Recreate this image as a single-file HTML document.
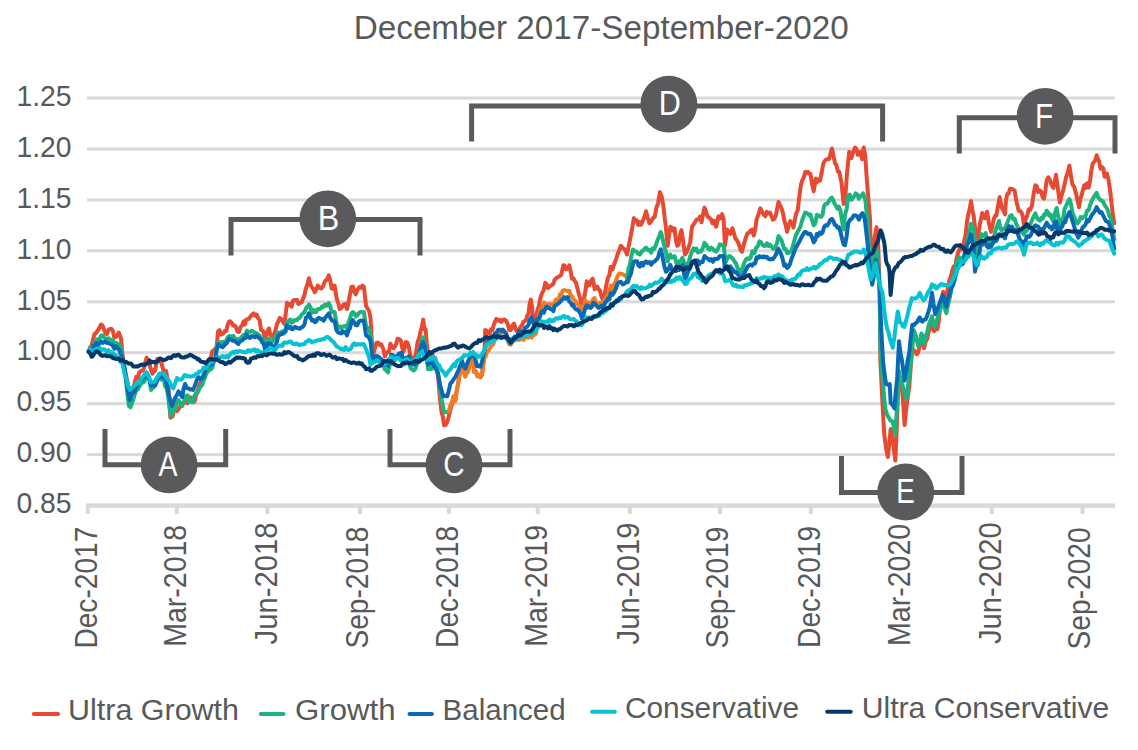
<!DOCTYPE html>
<html><head><meta charset="utf-8"><style>
html,body{margin:0;padding:0;background:#fff;width:1138px;height:750px;overflow:hidden}
svg{display:block}
text{font-family:"Liberation Sans",sans-serif;stroke-width:0.3px}
</style></head><body>
<svg width="1138" height="750" viewBox="0 0 1138 750">
<rect width="1138" height="750" fill="#fff"/>

<text x="353.8" y="38.7" font-size="33" fill="#58595b" textLength="495" lengthAdjust="spacingAndGlyphs">December 2017-September-2020</text>
<rect x="87" y="453.1" width="1028" height="3" fill="#d9d9d9"/>
<text x="71.5" y="462.3" font-size="30" fill="#58595b" text-anchor="end" textLength="55" lengthAdjust="spacingAndGlyphs">0.90</text>
<rect x="87" y="402.2" width="1028" height="3" fill="#d9d9d9"/>
<text x="71.5" y="411.4" font-size="30" fill="#58595b" text-anchor="end" textLength="55" lengthAdjust="spacingAndGlyphs">0.95</text>
<rect x="87" y="351.2" width="1028" height="3" fill="#d9d9d9"/>
<text x="71.5" y="360.4" font-size="30" fill="#58595b" text-anchor="end" textLength="55" lengthAdjust="spacingAndGlyphs">1.00</text>
<rect x="87" y="300.3" width="1028" height="3" fill="#d9d9d9"/>
<text x="71.5" y="309.5" font-size="30" fill="#58595b" text-anchor="end" textLength="55" lengthAdjust="spacingAndGlyphs">1.05</text>
<rect x="87" y="249.3" width="1028" height="3" fill="#d9d9d9"/>
<text x="71.5" y="258.5" font-size="30" fill="#58595b" text-anchor="end" textLength="55" lengthAdjust="spacingAndGlyphs">1.10</text>
<rect x="87" y="198.4" width="1028" height="3" fill="#d9d9d9"/>
<text x="71.5" y="207.6" font-size="30" fill="#58595b" text-anchor="end" textLength="55" lengthAdjust="spacingAndGlyphs">1.15</text>
<rect x="87" y="147.5" width="1028" height="3" fill="#d9d9d9"/>
<text x="71.5" y="156.7" font-size="30" fill="#58595b" text-anchor="end" textLength="55" lengthAdjust="spacingAndGlyphs">1.20</text>
<rect x="87" y="96.5" width="1028" height="3" fill="#d9d9d9"/>
<text x="71.5" y="105.7" font-size="30" fill="#58595b" text-anchor="end" textLength="55" lengthAdjust="spacingAndGlyphs">1.25</text>
<rect x="86" y="503.4" width="1029" height="4.4" fill="#d9d9d9"/>
<text x="71.5" y="512.6" font-size="30" fill="#58595b" text-anchor="end" textLength="55" lengthAdjust="spacingAndGlyphs">0.85</text>
<rect x="85.7" y="505.6" width="4" height="8.4" fill="#d9d9d9"/>
<text transform="translate(96.9,526.6) rotate(-90)" x="0" y="0" font-size="31" fill="#58595b" text-anchor="end" textLength="122" lengthAdjust="spacingAndGlyphs">Dec-2017</text>
<rect x="174.7" y="505.6" width="4" height="8.4" fill="#d9d9d9"/>
<text transform="translate(185.9,524.8) rotate(-90)" x="0" y="0" font-size="31" fill="#58595b" text-anchor="end" textLength="122" lengthAdjust="spacingAndGlyphs">Mar-2018</text>
<rect x="265.3" y="505.6" width="4" height="8.4" fill="#d9d9d9"/>
<text transform="translate(276.5,522.4) rotate(-90)" x="0" y="0" font-size="31" fill="#58595b" text-anchor="end" textLength="122" lengthAdjust="spacingAndGlyphs">Jun-2018</text>
<rect x="358.0" y="505.6" width="4" height="8.4" fill="#d9d9d9"/>
<text transform="translate(367.7,526.6) rotate(-90)" x="0" y="0" font-size="31" fill="#58595b" text-anchor="end" textLength="122" lengthAdjust="spacingAndGlyphs">Sep-2018</text>
<rect x="447.0" y="505.6" width="4" height="8.4" fill="#d9d9d9"/>
<text transform="translate(458.2,525.9) rotate(-90)" x="0" y="0" font-size="31" fill="#58595b" text-anchor="end" textLength="122" lengthAdjust="spacingAndGlyphs">Dec-2018</text>
<rect x="535.7" y="505.6" width="4" height="8.4" fill="#d9d9d9"/>
<text transform="translate(546.9,524.8) rotate(-90)" x="0" y="0" font-size="31" fill="#58595b" text-anchor="end" textLength="122" lengthAdjust="spacingAndGlyphs">Mar-2019</text>
<rect x="627.8" y="505.6" width="4" height="8.4" fill="#d9d9d9"/>
<text transform="translate(639.0,522.4) rotate(-90)" x="0" y="0" font-size="31" fill="#58595b" text-anchor="end" textLength="122" lengthAdjust="spacingAndGlyphs">Jun-2019</text>
<rect x="718.0" y="505.6" width="4" height="8.4" fill="#d9d9d9"/>
<text transform="translate(727.7,526.6) rotate(-90)" x="0" y="0" font-size="31" fill="#58595b" text-anchor="end" textLength="122" lengthAdjust="spacingAndGlyphs">Sep-2019</text>
<rect x="808.8" y="505.6" width="4" height="8.4" fill="#d9d9d9"/>
<text transform="translate(820.0,525.9) rotate(-90)" x="0" y="0" font-size="31" fill="#58595b" text-anchor="end" textLength="122" lengthAdjust="spacingAndGlyphs">Dec-2019</text>
<rect x="899.0" y="505.6" width="4" height="8.4" fill="#d9d9d9"/>
<text transform="translate(910.2,523.9) rotate(-90)" x="0" y="0" font-size="31" fill="#58595b" text-anchor="end" textLength="122" lengthAdjust="spacingAndGlyphs">Mar-2020</text>
<rect x="989.8" y="505.6" width="4" height="8.4" fill="#d9d9d9"/>
<text transform="translate(1001.0,522.1) rotate(-90)" x="0" y="0" font-size="31" fill="#58595b" text-anchor="end" textLength="122" lengthAdjust="spacingAndGlyphs">Jun-2020</text>
<rect x="1080.5" y="505.6" width="4" height="8.4" fill="#d9d9d9"/>
<text transform="translate(1090.2,527.4) rotate(-90)" x="0" y="0" font-size="31" fill="#58595b" text-anchor="end" textLength="122" lengthAdjust="spacingAndGlyphs">Sep-2020</text>
<path d="M88.7,351.7 L90.2,347.1 L91.6,345.8 L93.0,339.8 L94.5,334.1 L96.0,332.9 L97.5,331.1 L99.3,328.0 L101.1,324.5 L102.6,325.8 L104.1,329.7 L105.5,333.5 L107.0,334.1 L108.5,329.9 L110.0,328.9 L111.5,328.9 L112.9,331.1 L114.3,337.3 L115.8,337.0 L117.3,335.2 L118.8,332.6 L121.0,338.5 L122.4,353.2 L124.6,369.3 L126.1,375.9 L127.6,382.5 L129.8,394.3 L132.0,391.3 L133.5,387.9 L134.9,381.9 L136.4,376.6 L137.9,377.8 L139.3,372.2 L141.2,370.7 L143.0,370.8 L144.8,364.6 L146.6,357.6 L148.1,361.1 L149.6,364.9 L151.1,370.1 L152.5,373.7 L153.8,370.0 L155.0,370.8 L157.2,359.0 L158.6,359.4 L160.1,358.3 L162.3,366.4 L164.2,373.1 L166.0,370.8 L168.2,382.5 L170.4,417.7 L172.6,416.3 L174.1,409.2 L175.5,408.9 L177.0,411.0 L178.5,408.9 L179.9,407.3 L181.4,403.1 L182.9,403.6 L184.4,401.6 L185.9,402.0 L187.3,403.1 L188.8,401.9 L190.2,397.2 L191.7,398.1 L193.1,398.4 L194.6,401.6 L196.1,395.0 L197.6,391.3 L199.1,385.6 L200.5,382.5 L202.0,379.7 L203.4,375.1 L204.9,373.7 L206.4,368.0 L207.8,365.3 L209.3,362.0 L210.8,358.4 L212.2,351.3 L213.7,350.2 L215.1,349.1 L216.6,347.3 L218.1,331.1 L219.6,330.2 L221.0,334.6 L222.5,334.1 L223.8,332.9 L225.0,330.7 L226.3,330.9 L227.7,324.7 L229.0,321.6 L230.3,321.3 L231.6,322.6 L233.0,325.6 L234.3,325.3 L235.9,326.9 L237.4,331.6 L239.0,332.0 L240.6,326.9 L242.1,325.5 L243.7,321.3 L245.0,324.4 L246.3,319.4 L247.7,319.2 L249.0,318.7 L250.6,316.5 L252.1,314.5 L253.7,313.3 L255.2,315.8 L256.7,314.6 L258.2,318.4 L259.7,320.0 L261.0,329.8 L262.3,330.7 L263.6,331.8 L265.0,338.7 L266.4,334.3 L267.7,330.7 L269.0,328.4 L270.4,335.2 L271.7,335.4 L273.0,337.3 L274.3,333.6 L275.7,329.4 L277.0,324.0 L278.3,321.5 L279.7,317.9 L281.0,318.7 L282.6,321.0 L284.3,324.0 L285.6,314.9 L287.0,302.7 L288.6,305.1 L290.1,303.8 L291.7,306.7 L293.0,300.7 L294.3,300.0 L295.6,300.4 L297.0,299.9 L298.3,304.0 L299.9,302.9 L301.4,302.6 L303.0,298.8 L304.4,295.2 L305.9,288.5 L307.4,284.5 L308.9,278.2 L310.4,284.5 L311.8,287.0 L313.2,288.7 L314.7,292.2 L316.2,289.9 L317.7,285.6 L319.5,287.6 L321.3,288.5 L323.1,286.3 L325.0,281.1 L326.9,279.6 L328.7,275.3 L330.1,279.5 L331.6,288.5 L333.1,288.8 L334.6,285.6 L336.8,298.8 L338.2,303.0 L339.7,309.0 L341.5,307.9 L343.4,304.6 L345.2,304.0 L347.0,309.0 L348.5,302.9 L349.9,294.6 L351.4,287.0 L352.9,286.6 L354.3,291.8 L355.8,294.4 L357.6,289.5 L359.5,287.0 L361.0,287.8 L362.4,285.5 L363.9,287.0 L366.1,306.1 L367.6,308.7 L369.0,310.8 L370.5,317.8 L372.7,356.0 L374.5,349.7 L376.4,342.8 L378.2,342.7 L380.0,345.2 L381.2,344.3 L382.4,346.8 L383.6,350.2 L384.8,356.4 L386.1,353.7 L387.5,352.0 L388.9,352.1 L390.4,343.6 L392.0,347.3 L393.6,348.4 L394.9,346.6 L396.3,343.6 L397.6,338.8 L399.2,339.0 L400.8,340.4 L402.0,346.7 L403.2,351.6 L404.4,348.9 L405.6,342.0 L407.2,342.2 L408.8,346.8 L410.4,355.7 L412.0,358.0 L413.2,360.2 L414.4,359.6 L416.0,352.7 L417.6,342.0 L419.2,337.9 L420.8,330.8 L422.0,326.1 L423.2,319.6 L424.4,329.3 L425.6,329.2 L426.8,343.2 L428.0,353.2 L429.6,353.4 L431.2,356.4 L432.5,354.7 L433.9,358.5 L435.2,358.0 L436.5,367.4 L437.9,375.1 L439.2,390.0 L440.4,402.3 L441.6,412.4 L442.8,416.5 L444.0,425.2 L445.6,425.0 L447.2,422.0 L448.7,416.9 L450.3,409.9 L452.0,404.2 L453.6,396.4 L455.2,401.2 L456.6,391.6 L458.0,384.4 L459.6,373.9 L461.2,366.8 L462.5,368.1 L463.9,370.4 L465.2,376.4 L466.5,372.3 L467.9,369.9 L469.2,366.8 L470.5,362.2 L471.9,357.4 L473.2,354.0 L474.0,371.6 L475.6,371.2 L477.2,374.7 L478.8,374.8 L480.4,377.4 L482.0,374.8 L483.2,364.5 L484.4,357.2 L485.2,330.0 L486.8,330.8 L488.4,333.2 L489.7,333.8 L491.1,329.2 L492.4,330.0 L493.7,325.1 L495.1,321.3 L496.4,318.8 L498.0,320.6 L499.6,319.8 L501.2,322.0 L502.8,319.7 L504.4,319.5 L506.0,320.4 L507.6,323.8 L509.2,330.0 L510.8,330.0 L512.4,325.4 L514.0,323.6 L515.6,329.1 L517.2,331.6 L518.8,330.4 L520.4,327.0 L522.0,325.2 L523.3,321.9 L524.7,321.0 L526.0,320.4 L527.2,315.7 L528.4,314.0 L529.6,304.3 L530.8,299.6 L532.0,307.9 L533.2,318.8 L534.6,319.9 L536.0,318.7 L537.4,310.4 L538.7,306.7 L540.4,298.1 L542.0,293.3 L543.6,290.6 L545.3,282.7 L546.6,284.2 L548.0,288.2 L549.3,286.7 L550.6,285.8 L552.0,284.8 L553.3,284.0 L554.6,279.9 L556.0,278.5 L557.3,277.3 L558.6,276.7 L560.0,275.9 L561.3,274.7 L563.3,265.3 L564.6,265.5 L566.0,269.3 L567.6,268.7 L569.3,265.3 L570.6,271.2 L572.0,278.7 L573.3,278.3 L574.7,280.8 L576.0,282.7 L577.4,288.3 L578.7,293.3 L580.4,299.4 L582.0,310.7 L584.0,298.7 L585.4,290.9 L586.7,281.3 L588.0,285.4 L589.3,285.3 L591.0,280.8 L592.7,278.7 L594.7,289.3 L596.0,287.6 L597.3,286.7 L598.6,289.5 L600.0,290.5 L601.3,296.0 L602.6,299.2 L604.0,300.0 L605.3,290.6 L606.7,283.3 L608.0,277.3 L609.4,275.2 L610.7,266.7 L612.4,269.6 L614.0,264.8 L615.8,260.0 L617.5,254.5 L619.2,250.2 L620.9,245.8 L622.6,247.8 L624.4,249.3 L625.7,251.1 L627.0,254.5 L628.8,245.7 L630.5,237.1 L632.2,228.1 L633.9,218.1 L635.3,221.1 L636.8,220.4 L638.2,225.0 L639.7,222.1 L641.1,224.7 L642.6,221.6 L644.3,217.3 L646.0,211.2 L647.8,218.1 L649.5,223.3 L651.2,221.2 L653.0,218.1 L654.7,216.8 L656.4,207.7 L658.1,203.1 L659.9,192.1 L661.6,196.2 L663.4,206.0 L664.7,218.4 L666.0,228.5 L667.7,245.8 L669.0,236.1 L670.3,226.8 L671.7,227.6 L673.2,230.6 L674.6,228.5 L675.9,240.2 L677.2,245.8 L678.6,244.5 L680.1,234.7 L681.5,230.2 L683.2,241.8 L685.0,254.5 L686.7,252.3 L688.5,247.4 L690.2,242.3 L692.0,226.7 L693.5,224.6 L694.9,222.3 L696.8,219.4 L698.6,219.4 L700.0,216.5 L701.5,222.3 L703.0,214.3 L704.5,207.6 L706.0,211.2 L707.4,216.4 L709.2,217.7 L711.1,219.4 L712.5,223.4 L714.0,220.8 L716.2,226.7 L718.4,216.4 L720.2,218.5 L722.1,214.2 L723.6,219.4 L725.0,245.8 L727.2,229.6 L728.7,232.4 L730.2,234.0 L732.4,228.2 L733.8,232.6 L735.3,238.4 L737.1,240.5 L739.0,244.3 L740.5,249.5 L741.9,251.7 L743.8,244.4 L745.6,238.4 L747.4,233.4 L749.2,232.6 L750.7,230.5 L752.2,229.6 L753.7,235.5 L755.2,229.5 L756.6,219.4 L758.5,214.4 L760.3,208.3 L762.1,211.7 L763.9,215.0 L765.4,216.2 L766.8,211.8 L768.3,213.5 L770.0,212.5 L771.4,216.1 L772.9,219.7 L774.3,218.9 L775.7,216.2 L777.1,208.8 L778.5,201.9 L779.9,205.1 L781.4,207.9 L782.8,212.5 L784.2,220.1 L785.7,225.4 L787.1,231.7 L788.7,225.5 L790.3,221.1 L791.9,222.8 L793.5,227.5 L794.9,219.3 L796.3,213.1 L797.7,210.4 L799.3,196.5 L800.9,184.8 L802.3,180.2 L803.8,177.6 L805.2,172.0 L806.5,172.7 L807.9,171.8 L809.2,173.6 L810.5,174.1 L812.1,183.9 L813.7,191.2 L815.9,178.4 L817.3,182.0 L818.7,179.5 L820.1,180.5 L821.7,172.3 L823.3,163.5 L824.7,161.0 L826.2,159.4 L827.6,159.2 L829.0,159.2 L830.5,153.5 L831.9,148.5 L833.5,155.9 L835.1,163.5 L836.5,165.1 L837.9,171.6 L839.3,172.0 L841.5,182.7 L843.6,204.0 L845.0,201.9 L847.1,172.0 L849.3,151.7 L851.4,158.1 L853.2,152.0 L855.1,147.5 L856.5,148.9 L857.8,154.9 L859.1,154.0 L860.5,151.7 L862.1,159.2 L863.7,147.5 L865.3,156.0 L866.3,172.0 L867.9,193.3 L870.1,220.0 L870.6,242.0 L872.2,265.5 L874.3,239.9 L876.5,227.1 L878.1,244.1 L879.7,290.0 L880.4,361.7 L882.2,397.5 L884.1,432.6 L885.4,443.5 L886.6,451.6 L887.9,456.9 L889.3,443.4 L890.7,428.9 L892.2,438.1 L893.8,448.5 L895.3,460.6 L896.7,429.9 L898.1,389.7 L900.0,387.2 L901.8,385.2 L903.2,403.8 L904.6,425.1 L906.2,408.8 L907.7,397.4 L909.3,386.0 L910.7,367.4 L912.1,348.7 L913.7,350.1 L915.2,351.9 L916.8,354.3 L918.1,352.6 L919.8,345.7 L921.4,339.8 L922.7,339.6 L924.0,348.3 L925.6,341.8 L927.2,338.9 L928.8,331.2 L930.4,328.4 L932.0,322.7 L934.2,331.2 L935.8,328.0 L937.4,329.1 L938.7,321.4 L940.0,307.8 L941.6,299.5 L943.2,291.7 L944.5,298.6 L945.9,298.1 L947.5,290.2 L949.1,281.5 L950.8,276.5 L952.4,269.9 L953.7,266.6 L955.0,267.7 L956.3,259.6 L957.7,254.0 L959.0,250.3 L960.3,247.5 L961.7,249.5 L963.0,249.0 L964.4,239.9 L965.7,234.3 L967.0,221.6 L968.3,214.3 L969.6,209.6 L971.0,201.0 L972.4,210.5 L973.7,215.7 L975.7,234.3 L977.7,241.0 L979.7,225.0 L981.0,218.9 L982.3,213.0 L983.6,217.5 L985.0,218.3 L987.0,211.7 L989.0,223.7 L991.0,231.7 L992.4,225.8 L993.7,219.7 L995.0,215.8 L996.3,215.7 L998.0,206.2 L999.7,197.0 L1001.7,207.7 L1003.4,210.6 L1005.0,214.3 L1006.0,200.0 L1007.3,193.9 L1008.7,193.4 L1010.0,188.7 L1011.6,188.9 L1013.1,189.5 L1014.7,190.7 L1016.0,199.5 L1017.4,205.5 L1018.7,210.7 L1020.0,210.9 L1021.3,212.0 L1022.6,215.6 L1024.0,225.3 L1025.6,219.6 L1027.1,216.1 L1028.7,209.3 L1030.3,209.9 L1032.0,205.3 L1033.7,193.3 L1035.3,185.3 L1036.7,186.0 L1038.0,192.0 L1039.7,190.4 L1041.3,192.0 L1042.7,197.4 L1044.0,198.7 L1045.3,190.7 L1046.7,180.0 L1048.3,177.3 L1050.0,180.0 L1051.7,185.3 L1053.3,188.0 L1054.7,182.3 L1056.0,174.7 L1057.3,184.6 L1058.5,193.3 L1059.8,202.4 L1061.4,196.2 L1063.0,191.2 L1064.6,184.1 L1066.2,176.8 L1067.8,172.3 L1069.4,165.6 L1071.0,176.5 L1072.6,184.8 L1074.2,186.7 L1075.8,192.8 L1077.4,199.7 L1079.0,207.2 L1080.3,198.8 L1081.7,194.9 L1083.0,189.6 L1084.3,185.2 L1085.7,188.0 L1087.0,183.2 L1088.6,187.5 L1090.2,180.0 L1091.4,170.1 L1092.6,164.0 L1093.9,162.1 L1095.3,160.2 L1096.6,155.2 L1097.8,158.8 L1099.0,160.8 L1100.6,168.7 L1102.2,167.2 L1103.4,168.6 L1104.6,176.8 L1105.8,176.0 L1107.0,173.6 L1108.6,180.2 L1110.2,191.2 L1111.5,203.4 L1112.9,214.5 L1114.2,223.3" fill="none" stroke="#e64a33" stroke-width="4.0" stroke-linejoin="round" stroke-linecap="round"/>
<path d="M88.7,351.7 L90.5,349.0 L92.3,347.3 L93.8,346.0 L95.3,341.4 L96.8,339.8 L98.2,339.1 L99.6,338.6 L101.1,335.5 L102.6,335.6 L104.0,337.3 L105.5,338.8 L107.0,339.2 L108.5,338.3 L109.9,339.2 L111.4,340.0 L112.9,340.2 L114.3,345.0 L115.8,342.9 L117.7,343.8 L119.5,344.4 L121.3,351.1 L123.2,362.0 L124.7,371.1 L126.1,382.5 L127.5,394.9 L129.0,406.0 L130.5,407.3 L132.0,403.1 L133.5,398.9 L134.9,393.9 L136.4,389.9 L137.9,389.3 L139.3,386.8 L140.8,384.0 L142.3,382.6 L143.7,382.1 L145.2,379.6 L146.6,374.8 L148.1,375.2 L149.6,379.9 L151.0,389.9 L152.5,388.2 L154.0,386.9 L155.3,385.1 L156.6,379.6 L157.9,376.6 L159.4,374.5 L160.9,379.6 L162.4,378.5 L163.8,379.6 L165.2,386.5 L166.7,388.4 L168.2,396.8 L169.7,408.9 L171.1,416.3 L172.9,409.6 L174.8,410.4 L176.7,403.1 L178.5,400.1 L180.3,403.0 L182.2,406.0 L184.0,401.9 L185.8,395.7 L187.7,395.4 L189.5,401.6 L191.0,400.2 L192.4,402.4 L193.9,397.2 L195.8,393.2 L197.6,392.8 L199.1,389.4 L200.5,386.7 L202.0,385.5 L203.5,380.7 L204.9,377.9 L206.4,373.7 L207.9,371.3 L209.3,370.2 L210.8,369.3 L212.3,367.7 L213.7,361.7 L215.2,359.0 L216.6,346.4 L218.1,342.9 L219.6,342.4 L221.1,342.0 L222.5,343.3 L224.0,341.4 L225.0,341.3 L226.3,340.7 L227.7,337.3 L229.0,336.1 L230.3,336.0 L231.9,336.9 L233.5,335.8 L235.1,339.9 L236.7,338.8 L238.3,340.0 L239.7,338.8 L241.0,337.6 L242.3,336.4 L243.7,334.7 L245.3,335.2 L246.9,330.6 L248.5,332.1 L250.1,332.0 L251.7,330.7 L253.0,331.5 L254.3,332.2 L255.7,334.7 L257.0,333.3 L258.3,335.2 L259.6,335.5 L261.0,337.4 L262.3,340.0 L263.6,339.0 L265.0,342.9 L266.3,342.7 L267.6,342.0 L269.0,338.5 L270.4,342.4 L271.7,342.7 L273.0,339.9 L274.4,339.5 L275.7,336.0 L277.0,336.1 L278.4,332.7 L279.7,333.1 L281.0,332.0 L282.6,331.5 L284.1,332.1 L285.7,332.0 L287.0,321.3 L288.6,321.8 L290.1,319.5 L291.7,322.7 L293.0,322.1 L294.4,320.1 L295.7,320.2 L297.0,320.0 L298.5,318.2 L300.0,317.6 L301.5,314.7 L303.0,313.4 L304.5,312.2 L305.9,308.4 L307.4,306.7 L308.9,304.6 L310.3,307.0 L311.8,312.8 L313.2,309.9 L314.7,312.0 L316.2,312.0 L317.6,309.2 L319.1,309.0 L320.6,308.8 L322.1,306.4 L323.5,307.0 L325.0,304.6 L326.9,305.7 L328.7,303.2 L330.1,305.9 L331.6,312.0 L333.1,312.0 L334.6,312.0 L336.4,322.8 L338.2,328.1 L339.7,326.5 L341.1,327.8 L342.6,326.6 L344.1,326.4 L345.5,325.7 L347.0,328.1 L348.5,322.3 L349.9,319.0 L351.4,313.4 L352.9,312.1 L354.3,313.3 L355.8,316.4 L357.3,315.4 L358.7,313.1 L360.2,312.0 L362.0,312.2 L363.9,312.0 L366.1,326.6 L367.6,327.8 L369.0,329.3 L370.5,334.0 L372.7,360.4 L374.5,361.6 L376.4,356.0 L378.2,360.1 L380.0,361.2 L381.6,362.9 L383.2,365.3 L384.8,369.2 L386.4,370.6 L388.0,372.4 L389.6,365.5 L391.2,358.0 L392.8,358.8 L394.4,360.8 L396.0,356.4 L397.3,357.2 L398.7,354.7 L400.0,354.8 L401.3,356.5 L402.7,360.5 L404.0,364.4 L405.3,363.1 L406.7,358.3 L408.0,358.0 L409.3,363.0 L410.7,368.4 L412.0,369.2 L413.6,370.6 L415.2,369.2 L416.8,364.3 L418.4,358.0 L420.0,350.1 L421.6,341.5 L423.2,337.2 L424.8,343.9 L426.4,351.6 L428.0,369.2 L429.6,367.0 L431.2,369.2 L432.5,363.2 L433.9,368.2 L435.2,364.4 L436.5,369.9 L437.9,374.0 L439.2,380.4 L440.4,390.4 L441.6,399.6 L442.8,405.4 L444.0,412.4 L445.6,412.0 L447.2,412.4 L448.7,411.3" fill="none" stroke="#1db37e" stroke-width="4.0" stroke-linejoin="round" stroke-linecap="round"/>
<path d="M448.7,411.3 L450.3,405.8 L452.0,402.0 L453.6,396.4 L455.2,401.2 L456.6,391.2 L458.0,384.4 L459.6,374.7 L461.2,366.8 L462.5,367.3 L463.9,372.5 L465.2,376.4 L466.5,372.6 L467.9,372.3 L469.2,366.8 L470.5,363.4 L471.9,358.3 L473.2,354.0 L474.0,371.6 L475.6,371.1 L477.2,376.5 L478.8,374.8 L480.4,376.6 L482.0,374.8 L483.2,365.1 L484.4,357.2 L485.7,356.6 L487.1,351.0 L488.4,350.8 L490.0,348.1 L491.6,345.3 L493.2,344.4 L494.8,339.7 L496.4,336.7 L498.0,333.2 L499.6,332.1 L501.2,332.9 L502.8,332.8 L504.4,331.6 L506.0,334.6 L507.6,340.0 L509.2,344.4 L510.8,344.7 L512.4,339.8 L514.0,339.6 L515.6,339.9 L517.2,339.2 L518.8,339.9 L520.4,339.6 L522.0,337.4 L523.6,339.8 L525.2,337.4 L526.8,336.4 L528.4,337.6 L530.0,334.6 L531.6,337.4 L533.2,334.8 L534.6,334.8 L536.0,333.3 L537.3,325.2 L538.7,319.2 L540.0,310.7 L541.3,307.0 L542.7,305.7 L544.0,302.7 L545.3,303.8 L546.6,305.6 L548.0,304.4 L549.3,304.0 L550.6,304.4 L552.0,304.2 L553.4,305.5 L554.7,302.7 L556.0,299.6 L557.4,300.7 L558.7,298.7 L560.0,294.3 L561.4,294.4 L562.7,290.7 L564.4,290.1 L566.0,290.6 L567.6,291.1 L569.3,290.7 L570.6,295.3 L572.0,296.2 L573.3,298.7 L574.6,300.2 L576.0,301.6 L577.3,304.0 L578.9,305.5 L580.4,306.2 L582.0,313.3 L583.6,307.3 L585.3,300.0 L586.6,303.2 L588.0,303.6 L589.3,302.7 L590.6,302.3 L592.0,302.3 L593.3,298.7 L594.6,298.1 L596.0,303.0 L597.3,304.0 L598.6,305.7 L600.0,302.8 L601.3,306.7 L602.6,302.6 L604.0,301.7 L605.3,298.7 L606.6,296.0 L608.0,294.5 L609.3,290.7 L610.9,285.6 L612.4,290.1 L614.0,283.9 L615.7,281.6 L617.5,276.1 L619.2,273.5 L620.9,273.8 L622.7,274.3 L624.4,275.2 L625.7,275.5 L627.0,278.7" fill="none" stroke="#f37a22" stroke-width="4.0" stroke-linejoin="round" stroke-linecap="round"/>
<path d="M627.0,278.7 L628.4,269.0 L629.9,264.6 L631.3,256.2 L633.0,249.5 L634.8,251.0 L636.5,251.8 L638.3,253.9 L640.0,254.5 L641.5,251.6 L643.0,250.6 L644.5,248.9 L646.0,247.5 L647.7,249.9 L649.5,249.7 L651.2,252.7 L652.7,248.2 L654.1,248.9 L655.6,245.8 L657.3,240.8 L659.1,236.5 L660.8,232.0 L662.5,238.3 L664.2,245.8 L666.0,252.4 L667.7,261.4 L669.0,255.8 L670.3,254.5 L671.7,257.6 L673.2,257.0 L674.6,256.2 L676.4,262.6 L678.1,264.8 L679.5,261.2 L681.0,260.7 L682.4,257.9 L684.1,262.6 L685.9,270.0 L687.3,263.6 L688.8,262.2 L690.2,256.2 L692.0,251.7 L693.5,248.3 L694.9,250.2 L696.4,248.7 L697.9,252.5 L699.3,251.8 L700.8,251.7 L702.6,248.6 L704.5,242.8 L706.3,244.8 L708.1,248.7 L709.6,249.7 L711.1,247.5 L712.6,248.7 L714.4,250.5 L716.2,251.7 L718.0,248.7 L719.9,244.3 L721.8,245.2 L723.6,245.8 L725.8,261.9 L727.6,257.7 L729.4,256.0 L731.2,257.2 L733.1,259.0 L734.5,261.6 L736.0,263.4 L737.5,267.8 L738.9,270.2 L740.4,272.2 L742.6,267.8 L744.5,262.3 L746.3,259.0 L747.8,258.3 L749.2,259.0 L750.7,257.5 L752.5,251.3 L754.4,253.1 L756.1,247.8 L757.8,246.2 L759.5,241.4 L761.0,242.2 L762.5,244.9 L763.9,246.0 L765.4,245.8 L766.9,243.3 L768.5,246.0 L770.0,244.5 L771.4,246.2 L772.9,248.3 L774.3,248.8 L775.7,246.4 L777.1,242.8 L778.5,236.0 L779.9,237.9 L781.4,240.0 L782.8,244.5 L784.2,249.0 L785.7,248.9 L787.1,253.1 L788.5,253.1 L789.9,251.6 L791.3,250.9 L792.9,246.2 L794.5,240.1 L796.1,234.7 L797.7,231.7 L799.2,229.1 L800.7,225.8 L802.2,220.0 L803.7,216.3 L805.2,212.5 L806.5,213.0 L807.9,213.6 L809.2,215.4 L810.5,214.7 L812.1,220.5 L813.7,225.3 L815.3,223.2 L816.9,214.7 L818.3,216.2 L819.8,215.8 L821.2,216.8 L822.6,214.7 L824.1,205.7 L825.5,204.0 L827.1,203.8 L828.7,201.4 L830.3,199.0 L831.9,197.6 L833.3,200.4 L834.7,204.0 L836.1,206.1 L837.5,208.7 L839.0,206.7 L840.4,210.4 L842.0,221.2 L843.6,229.6 L845.0,214.7 L846.6,209.3 L848.2,196.5 L849.8,194.6 L851.4,199.7 L852.8,197.9 L854.3,196.2 L855.7,193.3 L857.3,194.5 L858.9,198.7 L860.3,196.0 L861.7,195.9 L863.1,193.3 L865.3,199.7 L867.4,220.0 L869.5,252.7 L870.9,259.4 L872.2,269.7 L873.8,259.7 L875.4,252.7 L877.0,250.5 L878.4,268.6 L879.7,290.0 L880.4,348.7 L881.8,365.7 L883.2,386.0 L885.1,408.4 L887.0,414.5 L888.8,417.7 L890.6,420.6 L892.5,421.4 L893.9,426.8 L895.3,434.5 L897.1,405.1 L899.0,371.0 L900.3,379.3 L901.5,381.6 L902.8,386.0 L904.6,394.0 L906.5,399.0 L908.2,384.6 L910.0,369.2 L911.7,354.7 L913.9,330.2 L915.3,334.4 L916.7,339.4 L918.1,346.2 L919.8,341.8 L921.4,333.4 L922.7,336.7 L924.0,344.1 L925.6,336.9 L927.2,331.8 L928.8,324.8 L930.4,320.8 L932.0,316.3 L933.6,324.0 L935.2,327.0 L936.6,321.6 L938.1,316.2 L939.5,312.0 L941.1,305.2 L942.7,297.1 L944.5,308.0 L946.4,313.1 L947.7,305.3 L948.9,301.4 L950.2,296.0 L951.8,286.0 L953.4,279.8 L955.0,270.3 L956.3,263.6 L957.7,260.1 L959.0,257.0 L960.3,257.7 L961.7,259.0 L963.0,259.7 L964.3,254.1 L965.7,250.5 L967.0,245.0 L968.3,237.3 L969.7,230.5 L971.0,223.7 L972.4,226.4 L973.7,229.0 L975.0,246.2 L976.3,262.3 L977.6,253.2 L979.0,243.7 L980.4,240.1 L981.7,234.3 L983.0,236.3 L984.4,236.0 L985.7,233.0 L987.0,240.1 L988.3,241.0 L990.0,243.8 L991.7,242.3 L993.4,238.0 L995.0,233.0 L996.3,227.7 L997.7,224.9 L999.0,221.0 L1000.4,228.9 L1001.7,230.3 L1003.4,228.5 L1005.0,229.0 L1006.7,224.2 L1008.3,220.3 L1010.0,216.0 L1011.6,215.2 L1013.1,219.0 L1014.7,218.7 L1016.0,223.5 L1017.4,226.1 L1018.7,230.7 L1020.0,231.4 L1021.4,232.6 L1022.7,231.7 L1024.0,234.7 L1025.3,230.8 L1026.7,230.7 L1028.1,228.6 L1029.6,225.6 L1031.0,222.7 L1032.4,219.4 L1033.9,216.1 L1035.3,213.3 L1037.0,218.0 L1038.7,220.0 L1040.0,220.6 L1041.4,217.8 L1042.7,218.7 L1044.0,214.6 L1045.4,214.9 L1046.7,210.7 L1048.0,212.3 L1049.4,215.7 L1050.7,214.7 L1052.0,219.1 L1053.3,221.3 L1055.0,213.2 L1056.7,208.0 L1058.0,215.3 L1059.3,221.9 L1060.6,226.5 L1061.9,220.4 L1063.3,217.6 L1064.6,208.8 L1066.2,205.5 L1067.8,202.0 L1069.4,199.2 L1071.0,204.4 L1072.6,213.6 L1074.2,216.6 L1075.8,221.1 L1077.4,223.3 L1079.0,221.5 L1080.6,217.1 L1082.2,218.2 L1083.8,216.8 L1085.4,216.8 L1087.0,210.7 L1088.6,210.4 L1090.2,204.8 L1091.8,200.8 L1093.4,197.7 L1095.0,195.1 L1096.6,192.8 L1098.2,197.6 L1099.8,199.2 L1101.4,200.8 L1103.0,201.2 L1104.6,205.1 L1106.2,207.2 L1107.8,210.3 L1109.4,216.1 L1111.0,218.4 L1112.6,229.7 L1114.2,239.3" fill="none" stroke="#1db37e" stroke-width="4.0" stroke-linejoin="round" stroke-linecap="round"/>
<path d="M88.7,351.7 L90.4,350.1 L92.1,349.0 L93.8,345.8 L95.3,345.2 L96.7,342.9 L98.2,345.2 L99.6,342.9 L101.1,341.4 L102.6,343.0 L104.0,342.2 L105.5,341.6 L107.0,342.9 L108.5,342.9 L110.0,343.9 L111.4,344.4 L112.9,345.8 L114.4,348.8 L115.8,346.1 L117.3,348.5 L118.8,348.8 L120.3,352.8 L121.7,356.4 L123.2,360.5 L124.7,368.4 L126.1,378.2 L127.6,388.4 L129.8,400.1 L131.6,393.8 L133.4,392.8 L134.9,391.2 L136.3,387.1 L137.8,384.0 L139.3,382.9 L140.7,380.3 L142.2,379.6 L143.7,377.4 L145.1,375.5 L146.6,373.7 L148.1,377.1 L149.5,379.8 L151.0,385.5 L152.3,385.3 L153.7,385.1 L155.0,385.5 L156.8,381.8 L158.7,375.2 L160.2,377.1 L161.6,376.9 L163.1,376.6 L164.9,377.7 L166.7,384.0 L168.2,390.9 L169.7,398.7 L171.9,406.0 L173.7,401.1 L175.5,397.2 L177.0,394.8 L178.5,391.3 L180.3,394.0 L182.2,397.2 L183.6,388.4 L185.1,384.0 L186.9,388.1 L188.8,388.4 L190.3,389.6 L191.7,389.2 L193.2,389.9 L194.7,386.1 L196.1,382.1 L197.6,378.1 L199.1,377.2 L200.5,378.9 L201.9,378.7 L203.4,376.6 L204.9,371.3 L206.4,367.8 L207.9,366.6 L209.3,365.6 L210.8,364.9 L212.3,363.8 L213.7,361.0 L215.2,360.5 L216.6,350.3 L218.1,344.4 L219.6,345.7 L221.1,346.7 L222.5,347.2 L224.0,345.8 L225.0,344.0 L226.3,343.7 L227.7,341.5 L229.0,338.7 L230.3,338.7 L231.9,340.4 L233.5,340.9 L235.1,341.2 L236.7,342.7 L238.3,344.0 L239.7,341.8 L241.0,340.9 L242.3,340.4 L243.7,338.7 L245.3,338.2 L246.9,334.7 L248.5,337.5 L250.1,337.9 L251.7,336.0 L253.3,336.7 L255.0,337.3 L256.6,335.9 L258.3,337.3 L259.6,338.5 L261.0,339.6 L262.3,342.7 L263.6,343.3 L265.0,349.3 L266.3,348.1 L267.7,343.5 L269.0,344.0 L270.3,343.6 L271.6,345.4 L273.0,347.6 L274.3,349.3 L275.6,345.3 L277.0,341.4 L278.3,336.0 L279.6,335.1 L281.0,334.0 L282.4,333.9 L283.7,333.3 L285.4,329.9 L287.0,325.3 L288.6,328.0 L290.1,326.5 L291.7,329.3 L293.0,329.3 L294.4,327.1 L295.7,327.1 L297.0,328.0 L298.5,328.3 L300.0,328.8 L301.5,327.1 L303.0,326.7 L304.5,324.4 L305.9,317.8 L307.4,316.9 L308.9,313.4 L310.3,317.1 L311.8,320.5 L313.2,319.8 L314.7,322.2 L316.2,321.6 L317.6,318.7 L319.1,317.8 L320.6,319.0 L322.1,319.1 L323.6,320.8 L325.3,317.5 L327.0,315.6 L328.7,313.4 L330.5,318.2 L332.4,320.8 L334.6,320.8 L336.4,330.0 L338.2,332.5 L339.7,332.8 L341.1,333.4 L342.6,331.1 L344.1,332.8 L345.5,331.9 L347.0,335.5 L348.5,330.5 L349.9,328.4 L351.4,322.2 L352.9,320.1 L354.3,322.8 L355.8,325.2 L357.3,325.2 L358.7,321.7 L360.2,320.8 L362.0,320.5 L363.9,320.8 L366.1,335.5 L367.6,336.3 L369.0,337.5 L370.5,341.3 L372.7,358.9 L374.5,358.3 L376.4,356.0 L378.2,356.6 L380.0,358.0 L381.6,359.6 L383.2,360.6 L384.8,364.4 L386.4,363.7 L388.0,366.0 L389.6,360.7 L391.2,354.8 L392.8,355.2 L394.4,360.1 L396.0,357.2 L397.3,356.0 L398.7,353.8 L400.0,353.2 L401.6,352.8 L403.2,360.5 L404.8,359.6 L406.1,357.7 L407.5,357.8 L408.8,356.4 L410.4,363.6 L412.0,364.4 L413.6,364.5 L415.2,364.4 L416.5,360.1 L417.9,358.6 L419.2,354.8 L420.5,349.6 L421.9,344.3 L423.2,342.0 L424.8,347.4 L426.4,354.8 L428.0,364.4 L429.6,362.7 L431.2,362.8 L432.5,361.0 L433.9,366.2 L435.2,364.4 L436.5,369.8 L437.9,372.8 L439.2,380.4 L440.5,386.8 L441.9,391.5 L443.2,396.4 L444.5,395.7 L445.9,396.0 L447.2,396.4 L448.8,390.5 L450.4,383.6 L452.0,381.9 L453.6,379.2 L455.2,377.2 L456.6,374.1 L458.0,371.6 L459.3,367.7 L460.7,364.5 L462.0,360.4 L463.6,366.3 L465.2,368.4 L466.5,365.1 L467.9,361.9 L469.2,358.8 L470.5,357.0 L471.9,355.4 L473.2,352.4 L474.4,356.9 L475.6,360.4 L477.2,366.2 L478.8,365.9 L480.4,366.8 L482.0,361.9 L483.6,354.0 L485.2,347.1 L486.8,344.2 L488.4,341.2 L490.0,340.9 L491.6,338.6 L493.2,338.0 L494.8,333.3 L496.4,332.7 L498.0,330.0 L499.6,329.6 L501.2,331.2 L502.8,329.6 L504.4,331.6 L506.0,333.1 L507.6,337.8 L509.2,341.2 L510.6,339.4 L512.0,341.0 L513.4,338.3 L514.8,336.4 L516.2,336.2 L517.7,334.9 L519.1,330.8 L520.6,331.8 L522.0,331.6 L523.6,330.6 L525.2,327.5 L526.8,326.8 L528.4,325.2 L530.0,319.7 L531.6,317.2 L533.2,322.8 L534.8,328.4 L536.0,322.7 L537.3,319.6 L538.6,319.2 L540.0,316.8 L541.3,312.0 L542.6,310.9 L544.0,312.7 L545.4,308.1 L546.7,306.7 L548.0,307.9 L549.4,307.8 L550.7,309.3 L552.0,309.3 L553.4,311.1 L554.7,305.9 L556.0,305.3 L557.7,304.0 L559.4,302.6 L561.0,300.9 L562.7,298.7 L564.0,297.2 L565.4,298.7 L566.7,297.3 L568.0,297.3 L569.3,301.4 L570.7,302.7 L572.0,305.3 L573.3,304.7 L574.6,308.1 L576.0,309.4 L577.3,309.3 L578.9,311.5 L580.4,313.5 L582.0,318.7 L583.6,314.6 L585.1,308.8 L586.7,305.3 L588.0,307.3 L589.4,306.3 L590.7,308.0 L592.0,306.5 L593.3,302.7 L594.6,303.6 L596.0,305.2 L597.3,306.7 L598.6,307.9 L600.0,307.2 L601.4,305.7 L602.7,308.0 L604.0,305.9 L605.4,302.2 L606.7,301.3 L608.0,298.5 L609.4,299.1 L610.7,293.3 L612.4,294.9 L614.0,292.6 L615.7,289.0 L617.5,283.8 L619.2,282.2 L620.9,281.8 L622.7,284.4 L624.4,283.9 L626.1,282.0 L627.9,282.2 L629.4,277.1 L630.9,273.8 L632.4,266.4 L633.9,261.4 L635.4,261.3 L637.0,261.2 L638.5,265.5 L640.0,266.6 L641.5,262.8 L643.0,265.6 L644.5,262.4 L646.0,261.4 L647.7,262.9 L649.5,262.0 L651.2,264.8 L652.9,262.1 L654.7,261.4 L656.4,259.7 L657.9,257.8 L659.3,253.1 L660.8,249.3 L662.5,256.4 L664.3,266.2 L666.0,271.8 L667.4,270.6 L668.9,268.5 L670.3,264.8 L671.7,269.0 L673.2,269.3 L674.6,270.0 L676.1,271.0 L677.5,269.8 L679.0,270.0 L680.7,268.5 L682.4,264.8 L683.7,272.2 L685.0,278.7 L686.7,275.7 L688.5,270.6 L690.2,268.3 L692.0,261.9 L693.5,261.3 L694.9,261.8 L696.4,260.5 L697.9,260.6 L699.3,264.2 L700.8,261.9 L702.6,262.1 L704.5,256.0 L706.2,257.6 L707.9,258.6 L709.6,260.5 L711.2,259.0 L712.9,261.8 L714.6,258.8 L716.2,259.0 L718.0,258.7 L719.9,256.0 L721.8,256.2 L723.6,256.0 L725.0,269.3 L726.7,267.4 L728.5,266.9 L730.2,266.3 L731.7,268.5 L733.1,269.7 L734.6,272.2 L736.0,271.9 L737.5,274.2 L739.0,275.5 L740.4,276.6 L742.2,276.5 L744.1,273.7 L746.0,269.6 L747.8,266.3 L749.3,265.3 L750.8,264.5 L752.2,265.6 L753.7,263.4 L755.2,263.4 L756.6,257.3 L758.0,258.0 L759.5,256.0 L761.0,257.3 L762.5,257.2 L763.9,256.3 L765.4,257.5 L766.9,256.8 L768.5,258.9 L770.0,259.5 L771.4,258.9 L772.9,259.2 L774.3,257.3 L775.7,255.0 L777.1,251.6 L778.5,248.8 L779.9,251.7 L781.4,254.9 L782.8,259.5 L784.2,265.8 L785.7,264.7 L787.1,268.0 L788.5,266.9 L789.9,264.3 L791.3,259.5 L792.9,255.2 L794.5,251.2 L796.1,247.1 L797.7,244.5 L799.2,241.7 L800.7,238.8 L802.2,236.0 L803.7,233.3 L805.2,231.7 L806.5,232.4 L807.9,234.1 L809.2,233.7 L810.5,233.9 L812.1,237.7 L813.7,242.4 L815.3,240.0 L816.9,233.9 L818.3,235.6 L819.8,232.5 L821.2,233.9 L822.6,232.4 L824.1,227.0 L825.5,225.3 L827.1,225.7 L828.7,223.3 L830.3,220.0 L831.9,218.9 L833.3,220.9 L834.7,224.7 L836.1,225.3 L837.5,227.8 L839.0,227.4 L840.4,231.7 L842.0,238.3 L843.6,244.5 L845.0,245.2 L846.6,236.7 L848.2,222.8 L850.3,219.6 L851.9,218.6 L853.5,215.7 L855.1,215.3 L856.4,215.7 L857.6,217.0 L858.9,219.6 L860.8,215.2 L862.6,213.2 L864.7,218.5 L866.0,229.7 L867.4,242.0 L868.8,258.0 L870.1,269.7 L872.2,284.7 L873.8,276.1 L875.9,260.1 L878.1,269.7 L879.7,290.0 L881.3,330.0 L883.2,363.6 L884.6,374.0 L886.0,384.1 L887.9,384.7 L889.7,384.1 L890.7,402.8 L892.5,404.8 L894.4,408.4 L895.8,391.1 L897.2,378.5 L899.0,341.2 L900.5,353.3 L901.9,359.9 L903.2,370.1 L904.6,380.4 L906.2,371.0 L907.7,360.3 L909.3,352.4 L910.8,337.1 L912.3,324.8 L914.1,324.9 L916.0,322.7 L917.3,322.0 L918.5,319.1 L919.8,317.4 L921.1,320.8 L922.4,321.6 L924.0,319.7 L925.6,319.5 L927.0,316.3 L928.5,311.5 L929.9,306.7 L932.0,292.8 L933.6,304.9 L935.2,314.2 L936.6,311.0 L938.1,307.1 L939.5,303.5 L941.1,298.9 L942.7,295.0 L944.5,301.7 L946.4,306.7 L947.7,298.8 L948.9,296.5 L950.2,291.7 L951.8,287.2 L953.4,284.2 L955.0,278.3 L956.3,273.1 L957.7,268.4 L959.0,265.0 L960.3,263.1 L961.7,264.4 L963.0,263.7 L964.3,258.3 L965.7,252.0 L967.0,245.0 L968.3,242.9 L969.7,238.8 L971.0,234.3 L972.4,242.6 L973.7,247.7 L975.0,271.7 L976.4,264.8 L977.7,265.0 L979.0,255.6 L980.3,246.3 L981.6,245.2 L983.0,244.2 L984.3,242.3 L985.6,243.6 L987.0,246.4 L988.3,247.7 L989.6,245.0 L991.0,247.1 L992.3,243.7 L993.6,242.6 L995.0,239.0 L996.3,241.0 L997.6,237.9 L999.0,234.3 L1000.3,234.3 L1001.9,236.3 L1003.4,235.8 L1005.0,238.3 L1006.7,230.7 L1008.0,228.9 L1009.4,226.2 L1010.7,228.3 L1012.0,226.7 L1013.6,230.1 L1015.1,229.7 L1016.7,232.0 L1018.4,235.5 L1020.0,240.0 L1021.3,241.7 L1022.7,241.5 L1024.0,245.3 L1025.3,241.7 L1026.7,236.5 L1028.0,236.0 L1029.3,236.9 L1030.7,235.2 L1032.0,232.0 L1033.7,227.0 L1035.3,225.3 L1036.9,226.3 L1038.4,226.6 L1040.0,232.0 L1041.7,228.9 L1043.3,229.3 L1045.0,226.0 L1046.7,222.7 L1048.0,225.0 L1049.3,227.1 L1050.7,226.6 L1052.0,229.3 L1053.3,227.9 L1054.7,222.4 L1056.0,221.3 L1058.2,234.5 L1059.5,233.6 L1060.9,227.4 L1062.2,226.5 L1063.6,222.5 L1065.1,222.3 L1066.5,217.7 L1068.0,215.0 L1069.4,212.0 L1071.0,216.4 L1072.6,221.4 L1074.2,226.5 L1075.5,232.2 L1076.9,234.6 L1078.2,237.7 L1079.6,235.6 L1081.0,232.2 L1082.4,227.8 L1083.8,226.5 L1085.4,224.9 L1087.0,220.0 L1088.6,221.3 L1090.2,218.4 L1091.8,215.1 L1093.4,213.1 L1095.0,210.8 L1096.6,207.2 L1098.2,209.8 L1099.8,212.7 L1101.4,212.0 L1103.0,215.2 L1104.6,218.5 L1106.2,221.4 L1107.8,221.7 L1109.1,223.5 L1110.5,227.8 L1111.8,232.9 L1113.0,240.0 L1114.2,248.9" fill="none" stroke="#0869b5" stroke-width="4.0" stroke-linejoin="round" stroke-linecap="round"/>
<path d="M88.7,350.2 L90.4,349.2 L92.1,351.8 L93.8,350.2 L95.3,350.1 L96.8,348.9 L98.2,348.8 L99.7,348.0 L101.2,350.2 L102.6,349.5 L104.0,349.3 L105.5,350.2 L107.0,352.0 L108.5,350.2 L109.9,352.8 L111.4,352.2 L112.9,353.2 L114.4,355.2 L115.8,355.1 L117.3,356.7 L118.8,357.6 L120.6,362.2 L122.4,363.4 L124.2,372.5 L126.1,378.1 L128.0,385.6 L129.8,389.9 L131.6,387.8 L133.4,386.9 L134.9,385.6 L136.3,383.5 L137.8,382.5 L139.5,382.8 L141.3,379.0 L143.0,376.6 L144.8,374.2 L146.6,372.2 L148.1,375.2 L149.5,378.3 L151.0,382.5 L152.3,382.2 L153.7,381.9 L155.0,381.0 L156.5,378.4 L157.9,376.4 L159.4,373.7 L160.9,373.2 L162.3,373.6 L163.8,373.7 L165.3,376.5 L166.7,377.9 L168.2,379.6 L169.9,382.3 L171.6,386.5 L173.3,388.4 L175.2,383.5 L177.0,378.1 L178.5,379.1 L179.9,379.8 L181.4,379.6 L182.9,377.8 L184.4,375.2 L185.8,375.1 L187.3,376.5 L188.8,376.0 L190.2,376.6 L191.7,376.5 L193.1,375.9 L194.6,375.8 L196.1,373.7 L197.6,373.8 L199.1,371.6 L200.5,371.4 L202.0,370.8 L203.5,368.0 L204.9,368.3 L206.4,367.8 L207.9,364.6 L209.3,363.8 L210.8,362.0 L212.2,362.0 L213.7,359.3 L215.2,359.6 L216.6,357.6 L218.1,356.9 L219.6,357.6 L221.0,357.2 L222.5,356.1 L223.8,357.2 L225.0,357.3 L226.6,355.8 L228.2,357.5 L229.8,354.8 L231.4,353.0 L233.0,352.0 L234.5,353.0 L236.1,351.2 L237.6,352.1 L239.1,351.1 L240.6,351.2 L242.2,351.7 L243.7,352.0 L245.2,352.4 L246.7,351.9 L248.2,350.1 L249.8,351.5 L251.3,350.4 L252.8,350.0 L254.3,349.3 L255.9,351.4 L257.5,350.0 L259.1,351.4 L260.7,352.1 L262.3,353.3 L264.0,351.5 L265.6,352.8 L267.3,350.3 L269.0,349.3 L270.7,348.0 L272.4,348.7 L274.0,349.9 L275.7,349.3 L277.0,347.4 L278.4,345.8 L279.7,345.9 L281.0,345.3 L282.3,345.9 L283.6,343.1 L285.0,342.3 L286.3,342.7 L287.9,342.7 L289.5,341.5 L291.1,341.8 L292.7,343.9 L294.3,344.0 L295.8,343.7 L297.2,343.5 L298.6,345.0 L300.1,344.9 L301.6,344.3 L303.0,344.3 L304.5,344.3 L305.9,341.9 L307.4,341.2 L308.9,339.9 L310.3,340.7 L311.8,342.4 L313.2,341.6 L314.7,341.3 L316.2,340.8 L317.6,340.2 L319.1,340.1 L320.6,339.9 L322.2,339.1 L323.9,339.3 L325.6,337.6 L327.2,336.9 L328.9,337.6 L330.7,339.5 L332.4,341.3 L333.8,342.4 L335.3,344.5 L336.8,346.5 L338.2,347.2 L339.7,348.3 L341.1,349.3 L342.6,348.7 L344.1,349.9 L345.6,347.2 L347.0,349.3 L348.5,350.1 L350.0,349.3 L351.4,347.8 L352.9,344.3 L354.4,343.3 L355.9,344.9 L357.3,344.2 L358.8,344.3 L360.5,344.7 L362.2,344.0 L363.9,344.3 L365.8,348.5 L367.6,353.1 L369.1,357.3 L370.5,364.8 L372.0,363.1 L373.4,362.6 L374.9,361.6 L376.4,360.4 L378.2,361.1 L380.0,362.8 L381.3,363.7 L382.7,362.6 L384.0,364.4 L385.3,363.7 L386.7,361.8 L388.0,359.6 L389.6,359.7 L391.2,357.0 L392.8,358.0 L394.4,360.2 L396.0,358.1 L397.6,358.0 L399.2,359.0 L400.8,360.5 L402.4,361.2 L403.8,360.4 L405.2,360.6 L406.6,358.8 L408.0,359.6 L409.3,360.6 L410.7,363.8 L412.0,362.8 L413.6,360.2 L415.2,359.2 L416.8,358.0 L418.4,355.3 L420.0,353.1 L421.6,351.6 L422.9,354.3 L424.3,356.3 L425.6,358.0 L426.9,360.2 L428.3,358.9 L429.6,359.6 L431.2,359.5 L432.8,356.4 L434.4,358.2 L436.0,360.7 L437.6,364.4 L439.2,365.3 L440.8,369.3 L442.4,370.8 L444.0,372.5 L445.6,375.6 L447.2,373.1 L448.8,370.8 L450.4,369.5 L452.0,366.6 L453.6,364.4 L455.1,366.2 L456.5,361.5 L458.0,360.4 L459.6,359.4 L461.2,358.5 L462.8,357.2 L464.4,355.0 L466.0,355.4 L467.6,355.6 L469.0,354.8 L470.4,352.4 L471.8,353.6 L473.2,352.4 L474.5,354.5 L475.9,354.6 L477.2,357.2 L478.8,356.2 L480.4,356.5 L482.0,354.0 L483.6,351.6 L485.2,347.7 L486.8,344.4 L488.4,343.7 L490.0,342.5 L491.6,341.5 L493.2,341.2 L494.8,339.5 L496.4,338.8 L498.0,337.7 L499.6,336.4 L501.2,337.7 L502.8,337.0 L504.4,337.4 L506.0,338.0 L507.6,340.2 L509.2,342.5 L510.8,342.8 L512.4,341.8 L514.0,340.1 L515.6,339.8 L517.2,338.0 L518.8,337.8 L520.4,337.2 L522.0,336.4 L523.6,336.0 L525.2,336.4 L526.8,335.1 L528.4,335.1 L530.0,333.4 L531.6,333.2 L533.1,332.6 L534.5,331.4 L536.0,330.7 L537.3,327.6 L538.6,326.9 L540.0,324.2 L541.3,321.3 L542.6,321.5 L544.0,323.5 L545.4,321.7 L546.7,321.3 L548.0,322.0 L549.4,319.6 L550.7,321.4 L552.0,320.0 L553.3,321.2 L554.6,319.6 L556.0,318.3 L557.3,318.7 L559.0,317.6 L560.6,318.3 L562.3,316.6 L564.0,316.0 L565.3,317.7 L566.6,316.9 L568.0,317.0 L569.3,318.7 L570.6,319.2 L572.0,319.4 L573.4,318.9 L574.7,320.0 L576.4,321.1 L578.0,323.4 L579.6,324.1 L581.3,325.3 L582.6,324.1 L584.0,321.0 L585.4,318.5 L586.7,317.3 L588.0,317.7 L589.4,317.5 L590.7,317.5 L592.0,317.3 L593.7,316.1 L595.4,317.1 L597.0,316.5 L598.7,316.0 L600.0,315.1 L601.4,312.5 L602.7,313.1 L604.0,312.0 L605.3,311.3 L606.6,310.2 L608.0,308.6 L609.3,308.0 L610.9,305.9 L612.4,306.0 L614.0,302.9 L615.4,302.8 L616.8,299.9 L618.1,300.8 L619.5,299.6 L620.9,299.5 L622.3,296.2 L623.7,295.8 L625.1,294.7 L626.5,291.9 L627.9,290.8 L629.4,290.0 L630.9,289.0 L632.4,286.8 L633.9,285.6 L635.4,286.6 L637.0,286.1 L638.5,288.3 L640.0,289.1 L641.4,287.2 L642.8,288.4 L644.1,288.2 L645.5,288.2 L646.9,287.4 L648.3,286.9 L649.7,284.7 L651.0,286.2 L652.4,284.9 L653.8,283.9 L655.4,282.4 L656.9,282.8 L658.5,282.4 L660.0,281.0 L661.6,278.7 L663.1,280.2 L664.5,282.2 L666.0,282.2 L667.4,282.3 L668.8,281.8 L670.1,281.3 L671.5,282.0 L672.9,280.4 L674.3,280.9 L675.7,278.4 L677.0,277.5 L678.4,278.8 L679.8,277.0 L681.5,279.3 L683.3,281.0 L685.0,283.9 L686.7,283.7 L688.5,279.6 L690.2,278.7 L692.0,276.6 L693.5,274.1 L694.9,273.7 L696.4,273.3 L697.8,277.3 L699.3,278.1 L700.8,278.5 L702.2,281.0 L703.7,279.0 L705.2,278.1 L706.7,277.7 L708.2,275.9 L709.6,274.8 L711.1,273.7 L712.6,273.4 L714.0,272.1 L715.5,271.2 L717.0,270.7 L718.6,270.6 L720.3,273.7 L722.0,273.5 L723.6,275.1 L725.0,281.0 L726.7,280.9 L728.5,280.5 L730.2,279.5 L731.7,282.4 L733.1,285.4 L734.6,285.9 L736.0,284.8 L737.5,286.7 L738.9,286.5 L740.4,286.9 L741.9,286.4 L743.3,287.1 L744.8,285.0 L746.3,285.4 L747.8,284.2 L749.3,284.4 L750.7,283.4 L752.2,283.3 L753.7,281.0 L755.2,280.6 L756.6,278.0 L758.1,279.2 L759.5,279.0 L761.0,278.1 L762.5,278.4 L763.9,276.8 L765.4,277.8 L766.8,277.5 L768.3,278.1 L770.0,278.7 L771.4,277.8 L772.8,278.7 L774.2,276.2 L775.7,276.0 L777.1,275.6 L778.5,274.4 L779.9,275.2 L781.4,276.6 L782.8,276.4 L784.2,279.9 L785.7,279.7 L787.1,280.8 L788.5,280.8 L789.9,281.2 L791.4,279.8 L792.8,279.2 L794.2,279.4 L795.6,278.7 L797.0,276.2 L798.4,274.4 L799.9,274.9 L801.3,271.6 L802.7,270.4 L804.1,270.1 L805.5,269.9 L807.0,268.2 L808.4,269.9 L809.8,269.2 L811.3,268.5 L812.7,268.0 L814.1,266.8 L815.5,268.6 L817.0,267.0 L818.4,266.5 L819.8,263.9 L821.2,263.7 L822.6,262.4 L824.0,261.0 L825.5,259.7 L826.9,260.1 L828.3,258.4 L829.7,257.3 L831.1,257.6 L832.6,258.3 L834.0,259.3 L835.4,258.5 L836.9,258.8 L838.3,259.5 L840.0,259.8 L841.6,260.9 L843.3,264.4 L845.0,263.3 L846.6,260.0 L848.2,254.8 L849.6,254.6 L851.1,253.2 L852.5,252.7 L853.9,251.8 L855.3,251.6 L856.7,251.6 L858.1,251.6 L859.6,252.4 L861.0,252.7 L862.4,251.6 L863.7,249.5 L865.8,254.8 L867.1,261.2 L868.5,267.6 L870.6,279.3 L872.0,276.7 L873.3,272.9 L874.6,266.7 L875.9,263.3 L877.5,273.1 L879.1,282.5 L881.3,290.0 L882.6,293.4 L884.0,308.3 L885.5,319.9 L887.0,328.3 L888.4,331.9 L889.9,339.0 L891.3,343.2 L892.8,347.8 L894.5,336.3 L896.1,322.6 L897.8,311.5 L900.0,322.7 L901.4,323.1 L902.9,326.4 L904.3,327.0 L905.9,321.4 L907.5,315.2 L908.9,308.9 L910.3,304.0 L911.7,298.1 L913.1,298.6 L914.6,298.5 L916.0,298.1 L917.3,297.3 L918.5,295.4 L919.8,292.8 L921.6,297.3 L923.5,300.3 L924.9,299.0 L926.4,295.9 L927.8,292.8 L929.2,290.2 L930.6,288.4 L932.0,284.3 L933.4,286.6 L934.9,285.7 L936.3,288.5 L937.7,287.3 L939.2,285.9 L940.6,284.3 L942.1,284.0 L943.5,285.2 L945.0,285.0 L946.3,285.3 L947.7,284.9 L949.0,285.5 L950.5,283.7 L952.0,280.7 L953.5,277.9 L955.0,275.7 L956.3,272.4 L957.6,268.5 L959.0,266.6 L960.3,263.7 L961.6,261.2 L963.0,261.9 L964.4,261.1 L965.7,259.7 L967.0,256.5 L968.4,256.7 L969.7,251.7 L971.0,252.9 L972.4,255.1 L973.7,255.7 L975.0,260.7 L976.3,265.0 L977.6,262.5 L979.0,259.6 L980.3,257.0 L981.6,256.0 L983.0,258.4 L984.4,258.7 L985.7,257.0 L987.0,257.1 L988.4,253.6 L989.7,253.0 L991.0,253.5 L992.4,249.7 L993.7,249.7 L995.0,249.0 L996.3,248.8 L997.6,247.9 L999.0,247.7 L1000.3,247.7 L1001.9,248.9 L1003.4,247.4 L1005.0,247.7 L1006.4,247.5 L1007.8,244.9 L1009.2,244.2 L1010.6,244.1 L1012.0,244.0 L1013.3,244.0 L1014.6,243.5 L1016.0,241.9 L1017.3,241.3 L1018.6,242.6 L1020.0,245.1 L1021.3,246.7 L1022.6,249.2 L1024.0,254.7 L1025.3,249.7 L1026.7,244.5 L1028.0,242.7 L1029.7,242.9 L1031.3,242.4 L1033.0,244.3 L1034.7,244.0 L1036.0,243.7 L1037.3,242.5 L1038.7,244.4 L1040.0,245.3 L1041.7,243.1 L1043.3,243.8 L1045.0,241.1 L1046.7,240.0 L1048.3,241.7 L1050.0,241.7 L1051.7,244.0 L1053.3,245.3 L1054.9,245.4 L1056.5,242.9 L1058.2,244.6 L1059.8,242.4 L1061.4,242.5 L1063.0,242.7 L1064.6,240.8 L1066.2,236.4 L1067.8,236.1 L1069.4,237.0 L1071.0,239.3 L1072.6,240.3 L1074.2,241.3 L1075.8,242.5 L1077.4,244.3 L1079.0,245.7 L1080.6,244.4 L1082.2,243.5 L1083.8,241.3 L1085.4,240.9 L1087.0,239.1 L1088.6,238.8 L1090.2,237.2 L1091.8,236.3 L1093.4,233.6 L1095.0,232.9 L1096.6,233.2 L1098.2,236.4 L1099.8,235.3 L1101.4,234.4 L1103.0,236.1 L1104.6,238.7 L1106.2,239.5 L1107.8,240.4 L1109.4,240.9 L1111.0,245.5 L1112.6,249.8 L1114.2,253.7" fill="none" stroke="#06c2d2" stroke-width="4.0" stroke-linejoin="round" stroke-linecap="round"/>
<path d="M88.7,351.7 L90.2,353.4 L91.6,356.8 L93.0,355.8 L94.5,353.2 L96.3,351.5 L98.2,351.7 L99.7,353.5 L101.1,355.4 L102.6,355.9 L104.1,355.5 L105.5,355.3 L107.0,356.3 L108.5,355.9 L110.0,356.2 L111.5,356.5 L112.9,358.2 L114.4,358.3 L115.9,359.1 L117.3,359.0 L118.8,358.6 L120.2,360.5 L121.7,360.3 L123.1,360.5 L124.6,362.0 L126.5,362.1 L128.3,363.4 L130.0,363.4 L131.6,364.1 L133.2,366.5 L134.9,366.4 L136.4,366.2 L137.9,366.6 L139.3,365.6 L140.8,364.9 L142.2,364.5 L143.7,364.7 L145.2,364.9 L146.6,363.4 L148.1,363.2 L149.6,360.4 L151.0,362.6 L152.5,362.0 L153.8,361.8 L155.0,362.7 L156.5,361.8 L157.9,361.2 L159.4,358.8 L160.9,359.0 L162.3,359.4 L163.8,360.3 L165.2,359.6 L166.7,359.0 L168.2,357.6 L169.6,357.6 L171.1,358.2 L172.6,356.1 L174.1,355.0 L175.6,356.1 L177.0,354.9 L178.5,354.6 L180.0,356.3 L181.4,357.2 L182.9,357.5 L184.4,357.6 L185.8,356.5 L187.3,356.4 L188.8,355.6 L190.2,354.6 L191.7,355.5 L193.1,356.3 L194.6,357.3 L196.1,357.6 L197.6,359.5 L199.1,359.3 L200.5,361.4 L202.0,362.0 L203.8,362.0 L205.6,363.4 L207.3,361.3 L209.1,359.3 L210.8,359.0 L212.2,359.4 L213.7,359.5 L215.2,359.3 L216.6,359.0 L218.1,360.0 L219.6,361.1 L221.0,362.2 L222.5,362.0 L223.8,362.8 L225.0,364.0 L226.3,363.7 L227.7,362.8 L229.0,361.7 L230.3,362.7 L232.0,361.2 L233.7,359.9 L235.3,358.6 L237.0,357.3 L238.6,357.9 L240.2,357.5 L241.8,358.2 L243.4,358.0 L245.0,358.7 L246.3,361.9 L247.7,362.7 L249.3,362.6 L251.0,358.5 L252.7,358.2 L254.3,357.3 L255.8,357.8 L257.4,356.0 L258.9,356.4 L260.4,355.6 L261.9,356.3 L263.5,354.6 L265.0,354.7 L266.7,355.3 L268.4,354.0 L270.0,353.6 L271.7,353.3 L273.2,353.8 L274.8,353.4 L276.4,354.8 L277.9,354.7 L279.4,354.1 L281.0,354.7 L282.7,354.6 L284.4,352.1 L286.0,353.3 L287.7,352.0 L289.4,352.2 L291.0,353.5 L292.6,354.6 L294.3,356.0 L295.8,356.4 L297.2,356.1 L298.6,358.8 L300.1,359.1 L301.6,359.7 L303.0,360.4 L304.5,359.4 L305.9,358.5 L307.4,357.0 L308.9,356.0 L310.4,355.7 L311.8,356.0 L313.3,354.5 L314.8,355.9 L316.2,353.4 L317.7,353.1 L319.2,353.4 L320.6,355.0 L322.1,354.8 L323.5,354.0 L325.0,354.5 L326.5,355.8 L328.0,355.2 L329.4,354.5 L330.9,355.9 L332.4,357.5 L333.9,357.4 L335.3,356.9 L336.8,359.2 L338.3,358.3 L339.7,358.6 L341.2,358.9 L342.7,359.1 L344.1,361.0 L345.6,359.9 L347.0,361.1 L348.5,361.9 L350.0,362.5 L351.4,363.1 L352.9,362.5 L354.3,362.5 L355.8,363.3 L357.3,363.7 L358.8,362.6 L360.2,363.9 L361.7,363.3 L363.2,365.7 L364.6,366.6 L366.1,369.2 L367.6,368.8 L369.1,368.3 L370.5,370.7 L372.0,370.7 L373.5,369.3 L374.9,368.9 L376.4,366.8 L377.9,366.3 L380.0,366.0 L381.6,364.8 L383.2,361.7 L384.8,361.2 L386.4,361.5 L388.0,360.9 L389.6,361.2 L391.2,361.1 L392.8,363.2 L394.4,364.4 L396.0,365.1 L397.6,366.2 L399.2,366.0 L400.8,366.0 L402.4,363.7 L404.0,362.8 L405.6,363.2 L407.2,362.2 L408.8,363.5 L410.4,363.0 L412.0,362.8 L413.6,362.3 L415.2,361.0 L416.8,360.9 L418.4,362.1 L420.0,361.2 L421.6,359.5 L423.2,359.2 L424.8,358.0 L426.4,356.4 L428.0,354.6 L429.6,352.0 L431.2,353.5 L432.8,351.6 L434.4,350.6 L436.0,349.9 L437.6,349.3 L439.2,348.5 L440.8,348.4 L442.4,348.2 L444.0,347.5 L445.6,347.8 L447.2,347.1 L448.8,346.8 L450.2,346.0 L451.6,345.7 L453.0,343.9 L454.4,343.6 L456.2,345.8 L458.0,347.6 L459.6,346.3 L461.2,346.6 L462.8,345.4 L464.4,346.0 L466.0,347.0 L467.6,347.8 L469.2,348.4 L470.8,347.3 L472.4,345.3 L474.0,343.9 L475.6,342.8 L477.2,343.1 L478.8,340.1 L480.4,341.2 L482.0,339.6 L483.6,339.3 L485.2,337.6 L486.8,337.0 L488.4,338.0 L490.0,337.6 L491.6,337.1 L493.2,336.3 L494.8,336.4 L496.4,337.2 L498.0,336.2 L499.6,336.7 L501.2,338.0 L502.8,337.1 L504.4,337.3 L506.0,336.4 L507.6,338.1 L509.2,341.0 L510.8,342.8 L512.4,340.7 L514.0,338.6 L515.6,338.0 L517.2,336.4 L518.8,335.6 L520.4,335.5 L522.0,333.2 L523.6,333.2 L525.2,331.6 L526.8,331.8 L528.4,331.5 L530.0,331.6 L531.5,330.5 L533.0,328.1 L534.5,325.9 L536.0,324.0 L537.3,324.4 L538.6,325.0 L540.0,325.3 L541.3,325.3 L542.6,325.4 L544.0,327.9 L545.4,326.4 L546.7,326.7 L548.0,328.5 L549.4,326.2 L550.7,328.4 L552.0,328.0 L553.3,330.1 L554.6,328.7 L556.0,329.8 L557.3,330.7 L558.6,329.2 L560.0,329.2 L561.4,327.8 L562.7,326.7 L564.3,325.9 L565.9,326.0 L567.5,326.6 L569.1,325.0 L570.7,325.3 L572.4,325.1 L574.0,326.3 L575.6,324.5 L577.3,325.3 L579.0,324.0 L580.6,323.0 L582.3,322.3 L584.0,321.3 L585.7,320.9 L587.4,319.8 L589.0,318.6 L590.7,318.7 L592.0,318.9 L593.4,317.0 L594.7,316.3 L596.0,316.0 L597.3,315.5 L598.6,314.6 L600.0,312.5 L601.3,312.0 L603.0,310.5 L604.6,309.9 L606.3,308.5 L608.0,308.0 L609.5,308.0 L611.0,304.3 L612.5,305.5 L614.0,302.9 L615.4,302.2 L616.8,300.9 L618.1,300.9 L619.5,298.2 L620.9,297.7 L622.3,296.4 L623.7,296.0 L625.1,295.3 L626.5,295.6 L627.9,296.0 L629.3,295.3 L630.7,293.3 L632.0,292.5 L633.4,290.7 L634.8,290.8 L636.2,292.8 L637.6,294.3 L638.9,294.9 L640.3,297.5 L641.7,299.5 L643.1,299.3 L644.5,297.9 L645.8,296.8 L647.2,297.0 L648.6,296.0 L650.0,295.6 L651.5,295.3 L653.0,291.8 L654.4,292.6 L655.8,291.7 L657.3,290.8 L658.7,288.8 L660.1,288.5 L661.4,286.3 L662.8,285.5 L664.2,283.9 L665.6,281.6 L667.0,280.2 L668.3,278.5 L669.7,275.5 L671.1,273.5 L672.8,271.4 L674.6,270.3 L676.3,266.6 L677.7,267.8 L679.1,266.8 L680.5,268.2 L681.9,269.2 L683.3,270.0 L684.7,269.3 L686.1,267.7 L687.4,267.3 L688.8,268.5 L690.2,266.6 L692.0,263.4 L693.5,261.4 L694.9,260.5 L696.8,266.3 L698.6,272.2 L700.1,273.6 L701.6,276.6 L703.0,277.1 L704.5,280.6 L706.0,282.5 L707.7,279.9 L709.4,278.0 L711.1,276.6 L712.8,275.2 L714.5,272.2 L716.2,270.0 L717.9,271.6 L719.7,269.6 L721.4,272.2 L722.9,270.5 L724.3,269.4 L725.8,267.6 L727.2,266.3 L728.9,270.7 L730.7,273.1 L732.4,278.1 L734.0,278.4 L735.7,279.1 L737.4,279.5 L739.0,279.5 L740.7,278.9 L742.4,277.8 L744.1,278.1 L745.8,276.4 L747.5,275.6 L749.2,275.1 L750.7,278.1 L752.2,280.3 L753.7,281.0 L755.2,282.0 L756.6,280.3 L758.0,283.2 L759.5,283.9 L761.0,286.1 L762.4,285.9 L763.9,288.3 L765.4,286.4 L766.8,281.7 L768.3,281.0 L770.0,282.9 L771.4,282.5 L772.8,282.1 L774.2,279.9 L775.7,280.5 L777.1,280.2 L778.5,278.7 L779.9,279.3 L781.4,280.1 L782.8,280.5 L784.2,282.9 L785.7,281.9 L787.1,282.9 L788.5,283.3 L789.9,284.6 L791.4,284.7 L792.8,283.8 L794.2,284.4 L795.6,285.1 L797.0,284.8 L798.4,285.4 L799.9,285.8 L801.3,284.5 L802.7,284.3 L804.1,285.1 L805.5,285.3 L807.0,284.9 L808.4,284.7 L809.8,285.3 L811.3,285.4 L812.7,285.1 L814.1,282.4 L815.5,281.4 L816.9,278.7 L818.3,279.5 L819.8,278.5 L821.2,279.6 L822.6,280.5 L824.1,280.7 L825.5,280.8 L826.9,280.7 L828.3,279.1 L829.8,277.9 L831.2,276.4 L832.6,276.2 L834.0,274.4 L835.4,272.0 L836.8,269.9 L838.2,268.2 L839.7,265.1 L841.1,263.7 L842.5,261.6 L843.8,262.6 L845.0,262.3 L846.4,265.2 L847.9,265.6 L849.3,267.6 L850.6,267.4 L852.0,266.3 L853.3,265.9 L854.6,265.5 L855.9,264.7 L857.2,265.4 L858.6,264.4 L859.9,264.4 L861.3,262.5 L862.8,263.4 L864.2,261.2 L865.6,259.4 L867.1,257.4 L868.5,255.9 L869.8,254.7 L871.1,253.5 L872.5,253.2 L873.8,250.5 L875.2,246.2 L876.7,243.1 L878.1,240.9 L879.4,234.3 L880.7,230.3 L882.3,234.5 L884.5,244.1 L886.1,261.2 L887.4,264.7 L888.7,266.5 L889.5,272.0 L890.6,295.0 L892.8,272.9 L894.1,269.7 L895.6,267.3 L897.2,266.4 L898.7,263.0 L900.4,262.0 L902.2,260.0 L903.9,257.7 L905.3,256.9 L906.7,257.2 L908.0,256.8 L909.4,256.4 L910.8,256.0 L912.2,255.9 L913.6,255.0 L914.9,254.4 L916.3,253.8 L917.7,252.5 L919.1,252.0 L920.5,249.8 L921.9,250.7 L923.3,250.5 L924.7,249.1 L926.2,248.1 L927.6,247.6 L929.0,246.7 L930.5,246.8 L932.0,245.8 L933.4,244.7 L934.8,244.8 L936.3,246.3 L937.7,246.7 L939.1,246.8 L940.6,248.9 L942.0,249.1 L943.5,249.0 L944.9,251.4 L946.4,251.9 L947.8,250.4 L949.2,251.4 L950.7,252.5 L952.1,250.8 L953.6,248.3 L955.0,246.3 L956.3,245.4 L957.6,245.6 L959.0,245.6 L960.3,245.0 L961.6,247.0 L963.0,247.2 L964.3,249.0 L965.6,251.9 L967.0,251.0 L968.3,253.0 L969.6,250.3 L971.0,248.7 L972.3,246.3 L973.6,245.4 L975.0,245.1 L976.3,243.7 L977.6,243.2 L979.0,242.9 L980.4,241.3 L981.7,241.0 L983.4,240.9 L985.0,240.7 L986.6,239.3 L988.3,238.3 L990.0,238.5 L991.6,238.4 L993.3,237.7 L995.0,238.3 L996.3,238.1 L997.6,236.2 L999.0,235.3 L1000.3,235.7 L1001.9,235.3 L1003.4,234.2 L1005.0,234.3 L1006.4,234.0 L1007.9,230.6 L1009.3,231.2 L1010.7,230.7 L1012.4,231.2 L1014.0,231.8 L1015.6,231.5 L1017.3,232.0 L1018.6,230.9 L1020.0,229.4 L1021.4,229.6 L1022.7,228.0 L1024.0,227.2 L1025.3,226.6 L1026.7,224.0 L1028.0,225.3 L1029.3,227.2 L1030.7,227.8 L1032.0,227.9 L1033.3,229.3 L1034.7,230.6 L1036.0,231.7 L1037.3,232.9 L1038.7,234.7 L1040.0,234.3 L1041.3,231.8 L1042.7,233.4 L1044.0,232.0 L1045.7,233.3 L1047.3,236.4 L1049.0,236.4 L1050.7,238.7 L1052.0,237.1 L1053.3,237.4 L1054.7,233.2 L1056.0,232.0 L1057.3,232.2 L1058.5,233.8 L1059.8,232.9 L1061.4,232.6 L1063.0,232.7 L1064.6,232.9 L1066.2,230.9 L1067.8,231.3 L1069.4,231.0 L1071.0,231.6 L1072.6,231.7 L1074.2,231.3 L1075.8,231.3 L1077.4,231.6 L1079.0,231.5 L1080.6,232.1 L1082.2,232.9 L1083.8,232.9 L1085.4,233.3 L1087.0,232.5 L1088.6,235.2 L1090.2,234.4 L1091.8,234.5 L1093.4,232.9 L1095.0,232.5 L1096.6,230.0 L1098.2,230.0 L1099.8,228.1 L1101.4,227.8 L1103.0,228.3 L1104.6,229.8 L1106.2,229.7 L1107.8,229.7 L1109.4,230.7 L1111.0,230.2 L1112.6,231.2 L1114.2,231.3" fill="none" stroke="#053868" stroke-width="4.0" stroke-linejoin="round" stroke-linecap="round"/>
<path d="M105.0,428.9 L105.0,464.8 L225.7,464.8 L225.7,428.9" fill="none" stroke="#5a5a5c" stroke-width="5" stroke-linejoin="miter"/>
<circle cx="169.1" cy="464.9" r="28.4" fill="#5a5a5c"/>
<text transform="translate(167.90,476.30) scale(0.82,1)" x="0" y="0" font-size="34.7" fill="#fff" text-anchor="middle">A</text>
<path d="M231.0,255.5 L231.0,219.5 L420.0,219.5 L420.0,255.5" fill="none" stroke="#5a5a5c" stroke-width="5" stroke-linejoin="miter"/>
<circle cx="327.8" cy="218.8" r="28.4" fill="#5a5a5c"/>
<text transform="translate(328.40,229.70) scale(0.93,1)" x="0" y="0" font-size="34.7" fill="#fff" text-anchor="middle">B</text>
<path d="M390.0,428.9 L390.0,464.8 L510.0,464.8 L510.0,428.9" fill="none" stroke="#5a5a5c" stroke-width="5" stroke-linejoin="miter"/>
<circle cx="454.0" cy="464.9" r="28.4" fill="#5a5a5c"/>
<text transform="translate(453.85,475.90) scale(0.85,1)" x="0" y="0" font-size="34.7" fill="#fff" text-anchor="middle">C</text>
<path d="M471.6,141.6 L471.6,106.1 L882.6,106.1 L882.6,141.6" fill="none" stroke="#5a5a5c" stroke-width="5" stroke-linejoin="miter"/>
<circle cx="668.9" cy="104.2" r="28.4" fill="#5a5a5c"/>
<text transform="translate(669.80,114.90) scale(0.88,1)" x="0" y="0" font-size="34.7" fill="#fff" text-anchor="middle">D</text>
<path d="M841.5,456.1 L841.5,492.4 L962.0,492.4 L962.0,456.1" fill="none" stroke="#5a5a5c" stroke-width="5" stroke-linejoin="miter"/>
<circle cx="905.7" cy="492.0" r="28.4" fill="#5a5a5c"/>
<text transform="translate(905.45,503.30) scale(0.8,1)" x="0" y="0" font-size="34.7" fill="#fff" text-anchor="middle">E</text>
<path d="M959.3,153.4 L959.3,117.7 L1115.0,117.7 L1115.0,153.4" fill="none" stroke="#5a5a5c" stroke-width="5" stroke-linejoin="miter"/>
<circle cx="1045.1" cy="116.3" r="28.4" fill="#5a5a5c"/>
<text transform="translate(1044.20,128.00) scale(0.86,1)" x="0" y="0" font-size="34.7" fill="#fff" text-anchor="middle">F</text>
<line x1="33.8" y1="714" x2="58.1" y2="714" stroke="#e64a33" stroke-width="4" stroke-linecap="round"/>
<text x="68" y="719.6" font-size="29.3" fill="#58595b" textLength="171" lengthAdjust="spacingAndGlyphs">Ultra Growth</text>
<line x1="260.8" y1="714" x2="283.5" y2="714" stroke="#1db37e" stroke-width="4" stroke-linecap="round"/>
<text x="295" y="719.6" font-size="29.3" fill="#58595b" textLength="100.5" lengthAdjust="spacingAndGlyphs">Growth</text>
<line x1="409.5" y1="714" x2="431.9" y2="714" stroke="#0869b5" stroke-width="4" stroke-linecap="round"/>
<text x="442.6" y="719.6" font-size="29.3" fill="#58595b" textLength="123" lengthAdjust="spacingAndGlyphs">Balanced</text>
<line x1="592.1" y1="711.8" x2="614.9" y2="711.8" stroke="#06c2d2" stroke-width="4" stroke-linecap="round"/>
<text x="625" y="717.8" font-size="29.3" fill="#58595b" textLength="174" lengthAdjust="spacingAndGlyphs">Conservative</text>
<line x1="827.2" y1="711.8" x2="850.7" y2="711.8" stroke="#053868" stroke-width="4" stroke-linecap="round"/>
<text x="861.8" y="717.8" font-size="29.3" fill="#58595b" textLength="247.5" lengthAdjust="spacingAndGlyphs">Ultra Conservative</text>
</svg></body></html>
